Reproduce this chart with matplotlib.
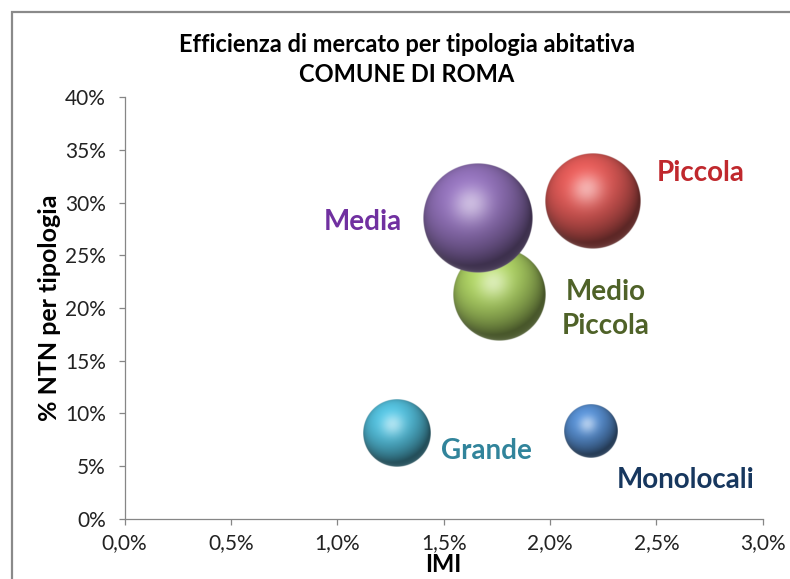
import numpy as np
import matplotlib
matplotlib.use('Agg')
from matplotlib import pyplot as plt
from matplotlib.colors import to_rgb
from matplotlib.patches import Rectangle
from matplotlib.ticker import FuncFormatter, MultipleLocator

plt.rcParams['font.family'] = ['Lato', 'DejaVu Sans']

# tipologie abitative: IMI (x), quota NTN (y), dimensione bolla
tipologie = ['Piccola', 'Medio\nPiccola', 'Media', 'Grande', 'Monolocali']
imi = [0.0220, 0.0176, 0.0166, 0.0128, 0.0219]
ntn = [0.301, 0.212, 0.285, 0.081, 0.083]
dimensione = [23.5, 21.7, 31.0, 11.6, 7.3]

colori = ['#CC524F', '#9DBE5A', '#8467A8', '#4BACC6', '#4F81BD']
colori_testo = ['#C0282D', '#4F6228', '#7030A0', '#31849B', '#17375E']
pos_testo = [(0.0271, 0.328), (0.0226, 0.199), (0.0112, 0.282), (0.0170, 0.064), (0.0264, 0.037)]
livelli = [4, 5, 6, 4, 4]

W, H = 790, 579
fig = plt.figure(figsize=(W / 100, H / 100), dpi=100)
ax = fig.add_axes([124.5 / W, 1 - 518.7 / H, 638.2 / W, 421.4 / H])

# cornice grigia del grafico
fig.patches.append(Rectangle((12 / W, -0.1), 1.2, 1.1 - 12 / H, transform=fig.transFigure,
                             fill=False, edgecolor='#8a8a8a', linewidth=1.6))

ax.set_xlim(0, 0.03)
ax.set_ylim(0, 0.40)


def sfera(colore, n=240):
    yy, xx = np.mgrid[1:-1:n * 1j, -1:1:n * 1j]
    rr = np.sqrt(xx ** 2 + yy ** 2)
    z = np.sqrt(np.clip(1 - rr ** 2, 0, None))
    luce = np.array([-0.25, 0.5, 0.83])
    luce /= np.linalg.norm(luce)
    diff = np.clip(xx * luce[0] + yy * luce[1] + z * luce[2], 0, 1)
    h = luce + np.array([0, 0, 1.0])
    h /= np.linalg.norm(h)
    spec = np.clip(xx * h[0] + yy * h[1] + z * h[2], 0, 1) ** 18
    bordo = (1 - z) ** 4 * np.clip(-yy, 0, 1) * 0.35
    base = np.array(to_rgb(colore))
    rgb = base * (0.45 + 0.72 * diff)[..., None]
    rgb = rgb + (0.5 * spec + bordo)[..., None] * (1 - rgb)
    rgb = np.clip(rgb, 0, 1)
    alpha = np.clip((1 - rr) * n / 2, 0, 1)
    return np.dstack([rgb, alpha])


r_max = 55.0  # raggio in pixel della bolla più grande
px_x = 638.2 / 0.03
px_y = 421.4 / 0.40
for i in range(len(tipologie)):
    r = r_max * np.sqrt(dimensione[i] / max(dimensione))
    rx, ry = r / px_x, r / px_y
    ax.imshow(sfera(colori[i]), extent=[imi[i] - rx, imi[i] + rx, ntn[i] - ry, ntn[i] + ry],
              aspect='auto', interpolation='bilinear', zorder=livelli[i])
    ax.text(pos_testo[i][0], pos_testo[i][1], tipologie[i], color=colori_testo[i],
            fontsize=20, fontweight='bold', ha='center', va='center', linespacing=1.35, zorder=8)

ax.set_xlim(0, 0.03)
ax.set_ylim(0, 0.40)
ax.xaxis.set_major_locator(MultipleLocator(0.005))
ax.yaxis.set_major_locator(MultipleLocator(0.05))
ax.xaxis.set_major_formatter(FuncFormatter(lambda v, p: f'{v * 100:.1f}%'.replace('.', ',')))
ax.yaxis.set_major_formatter(FuncFormatter(lambda v, p: f'{v * 100:.0f}%'))

for s in ['top', 'right']:
    ax.spines[s].set_visible(False)
for s in ['left', 'bottom']:
    ax.spines[s].set_color('#868686')
    ax.spines[s].set_linewidth(0.9)
ax.tick_params(colors='#868686', labelcolor='#222222', labelsize=15, length=4.5, width=0.9)
ax.tick_params(axis='x', pad=6)
ax.tick_params(axis='y', pad=9)

ax.set_xlabel('IMI', fontsize=17, fontweight='bold', labelpad=0)
ax.set_ylabel('% NTN per tipologia', fontsize=18, fontweight='bold', labelpad=3)

fig.text(407 / W, 1 - 45 / H, 'Efficienza di mercato per tipologia abitativa', ha='center', va='center',
         fontsize=17, fontweight='bold')
fig.text(407 / W, 1 - 75 / H, 'COMUNE DI ROMA', ha='center', va='center', fontsize=17, fontweight='bold')

fig.savefig('out.png', dpi=100)
